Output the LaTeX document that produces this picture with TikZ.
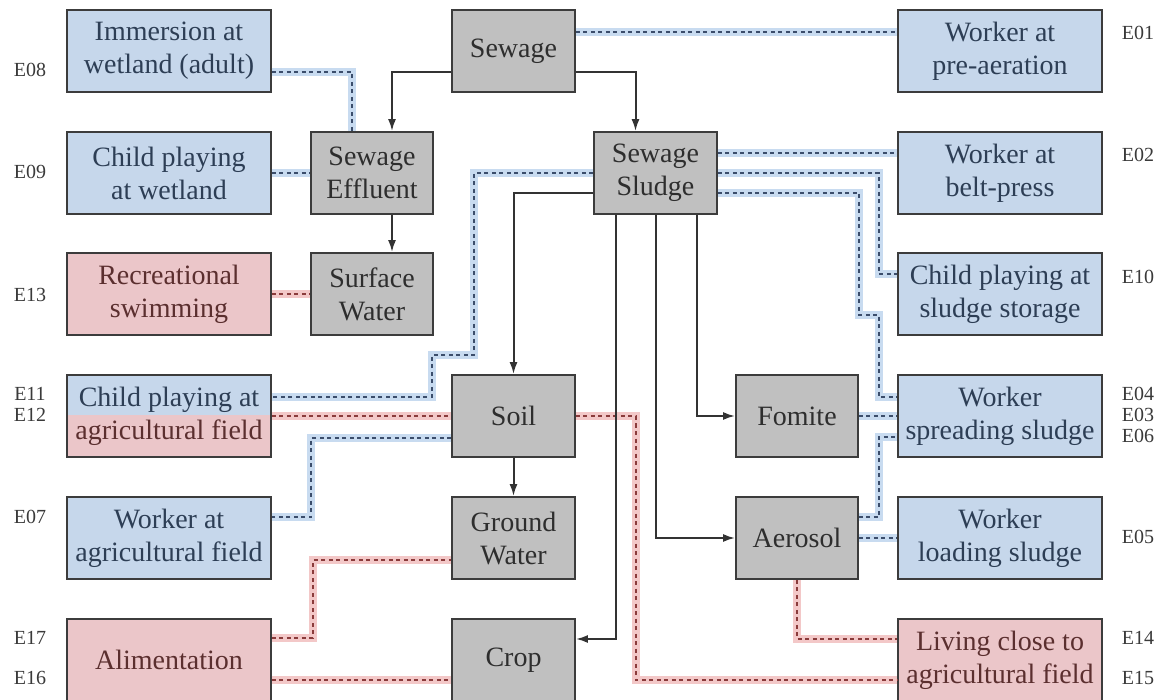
\documentclass[tikz,border=0pt]{standalone}
\usepackage{fontspec}
\setmainfont{Liberation Serif}
\usetikzlibrary{arrows.meta,calc}
\definecolor{boxline}{HTML}{3C3C3C}
\definecolor{grayfill}{HTML}{C0C0C0}
\definecolor{bluefill}{HTML}{C6D7EB}
\definecolor{redfill}{HTML}{EBC6C9}
\definecolor{graytext}{HTML}{2E2E2E}
\definecolor{bluetext}{HTML}{2D3E55}
\definecolor{redtext}{HTML}{5B2F2F}
\definecolor{labeltext}{HTML}{3A3A3A}
\definecolor{blueband}{HTML}{C8DBF0}
\definecolor{bluedash}{HTML}{3B4D6B}
\definecolor{redband}{HTML}{F3C8C8}
\definecolor{reddash}{HTML}{8A3B3B}
\definecolor{arrowcol}{HTML}{333333}
\begin{document}
\begin{tikzpicture}[x=1pt,y=-1pt,
  box/.style={draw=boxline, line width=1.8pt, minimum width=204pt, minimum height=82pt,
    inner sep=1pt, align=center, font=\fontsize{28}{33}\selectfont},
  gbox/.style={box, fill=grayfill, text=graytext, minimum width=122pt},
  bbox/.style={box, fill=bluefill, text=bluetext},
  rbox/.style={box, fill=redfill, text=redtext},
  elabel/.style={font=\fontsize{20}{20}\selectfont, text=labeltext, inner sep=0pt},
  bluelink/.style={draw=bluedash, line width=1.8pt, dash pattern=on 4pt off 3.5pt,
    preaction={draw=blueband, line width=7.5pt, solid}},
  redlink/.style={draw=reddash, line width=1.8pt, dash pattern=on 4pt off 3.5pt,
    preaction={draw=redband, line width=7.5pt, solid}},
  arr/.style={draw=arrowcol, line width=2pt, -{Latex[length=12pt,width=8pt]}}
]
\useasboundingbox (0,0) rectangle (1170,700);

% left column
\node[bbox] (imm) at (169,51) {Immersion at\\wetland (adult)};
\node[bbox] (cpw) at (169,173) {Child playing\\at wetland};
\node[rbox] (rec) at (169,294) {Recreational\\swimming};
\node[rbox, text=bluetext, path picture={\fill[bluefill] (path picture bounding box.north west) rectangle ([yshift=1pt]path picture bounding box.east);}] (cpa) at (169,416) {Child playing at\\\textcolor{redtext}{agricultural field}};
\node[bbox] (waf) at (169,538) {Worker at\\agricultural field};
\node[rbox] (ali) at (169,660) {Alimentation};

% gray nodes
\node[gbox] (eff) at (372,173) {Sewage\\Effluent};
\node[gbox] (sw) at (372,294) {Surface\\Water};
\node[gbox, minimum width=123pt] (sewage) at (513.5,51) {Sewage};
\node[gbox, minimum width=123pt] (sludge) at (655.5,173) {Sewage\\Sludge};
\node[gbox, minimum width=123pt] (soil) at (513.5,416) {Soil};
\node[gbox, minimum width=123pt] (gw) at (513.5,538) {Ground\\Water};
\node[gbox, minimum width=123pt] (crop) at (513.5,660) {Crop};
\node[gbox] (fomite) at (797,416) {Fomite};
\node[gbox] (aerosol) at (797,538) {Aerosol};

% right column
\node[bbox] (wpa) at (1000,51) {Worker at\\pre-aeration};
\node[bbox] (wbp) at (1000,173) {Worker at\\belt-press};
\node[bbox] (cps) at (1000,294) {Child playing at\\sludge storage};
\node[bbox] (wss) at (1000,416) {Worker\\spreading sludge};
\node[bbox] (wls) at (1000,538) {Worker\\loading sludge};
\node[rbox] (lc) at (1000,660) {Living close to\\agricultural field};

% labels
\node[elabel] (l08) at (30,70) {E08};
\node[elabel] (l09) at (30,172) {E09};
\node[elabel] (l13) at (30,295) {E13};
\node[elabel] (l11) at (30,394) {E11};
\node[elabel] (l12) at (30,415) {E12};
\node[elabel] (l07) at (30,517) {E07};
\node[elabel] (l17) at (30,638) {E17};
\node[elabel] (l16) at (30,678) {E16};
\node[elabel] (r01) at (1138,33) {E01};
\node[elabel] (r02) at (1138,155) {E02};
\node[elabel] (r10) at (1138,277) {E10};
\node[elabel] (r04) at (1138,394) {E04};
\node[elabel] (r03) at (1138,415) {E03};
\node[elabel] (r06) at (1138,436) {E06};
\node[elabel] (r05) at (1138,537) {E05};
\node[elabel] (r14) at (1138,638) {E14};
\node[elabel] (r15) at (1138,678) {E15};

% blue exposure links
\draw[bluelink] ([yshift=-21pt]imm.east) -| ([xshift=-20pt]eff.north);
\draw[bluelink] (cpw.east) -- (eff.west);
\draw[bluelink] ([yshift=19pt]sewage.east) -- ([yshift=19pt]wpa.west);
\draw[bluelink] ([yshift=20pt]sludge.east) -- ([yshift=20pt]wbp.west);
\draw[bluelink] (sludge.east) -- ++(161,0) |- ([yshift=20pt]cps.west);
\draw[bluelink] ([yshift=-20pt]sludge.east) -- ++(141,0) -- ++(0,122) -- ++(20,0) |- ([yshift=19pt]wss.west);
\draw[bluelink] (sludge.west) -- ++(-119,0) -- ++(0,182) -- ++(-42,0) |- ([yshift=19pt]cpa.east);
\draw[bluelink] ([yshift=-22pt]soil.west) -- ++(-140,0) |- ([yshift=21pt]waf.east);
\draw[bluelink] (fomite.east) -- (wss.west);
\draw[bluelink] ([yshift=21pt]aerosol.east) -- ++(20,0) |- ([yshift=-21pt]wss.west);
\draw[bluelink] (aerosol.east) -- (wls.west);

% red exposure links
\draw[redlink] (rec.east) -- (sw.west);
\draw[redlink] (cpa.east) -- (soil.west);
\draw[redlink] (soil.east) -- ++(60,0) |- ([yshift=-20pt]lc.west);
\draw[redlink] ([yshift=22pt]ali.east) -- ++(41,0) |- ([yshift=-22pt]gw.west);
\draw[redlink] ([yshift=-20pt]ali.east) -- ([yshift=-20pt]crop.west);
\draw[redlink] (aerosol.south) |- ([yshift=21pt]lc.west);

% flow arrows
\draw[arr] ([yshift=-21pt]sewage.west) -| ([xshift=20pt]eff.north);
\draw[arr] ([yshift=-21pt]sewage.east) -| ([xshift=-20pt]sludge.north);
\draw[arr] ([xshift=20pt]eff.south) -- ([xshift=20pt]sw.north);
\draw[arr] ([yshift=-20pt]sludge.west) -| (soil.north);
\draw[arr] ([xshift=-40pt]sludge.south) |- ([yshift=21pt]crop.east);
\draw[arr] (sludge.south) |- (aerosol.west);
\draw[arr] ([xshift=41pt]sludge.south) |- (fomite.west);
\draw[arr] (soil.south) -- (gw.north);
\end{tikzpicture}
\end{document}
